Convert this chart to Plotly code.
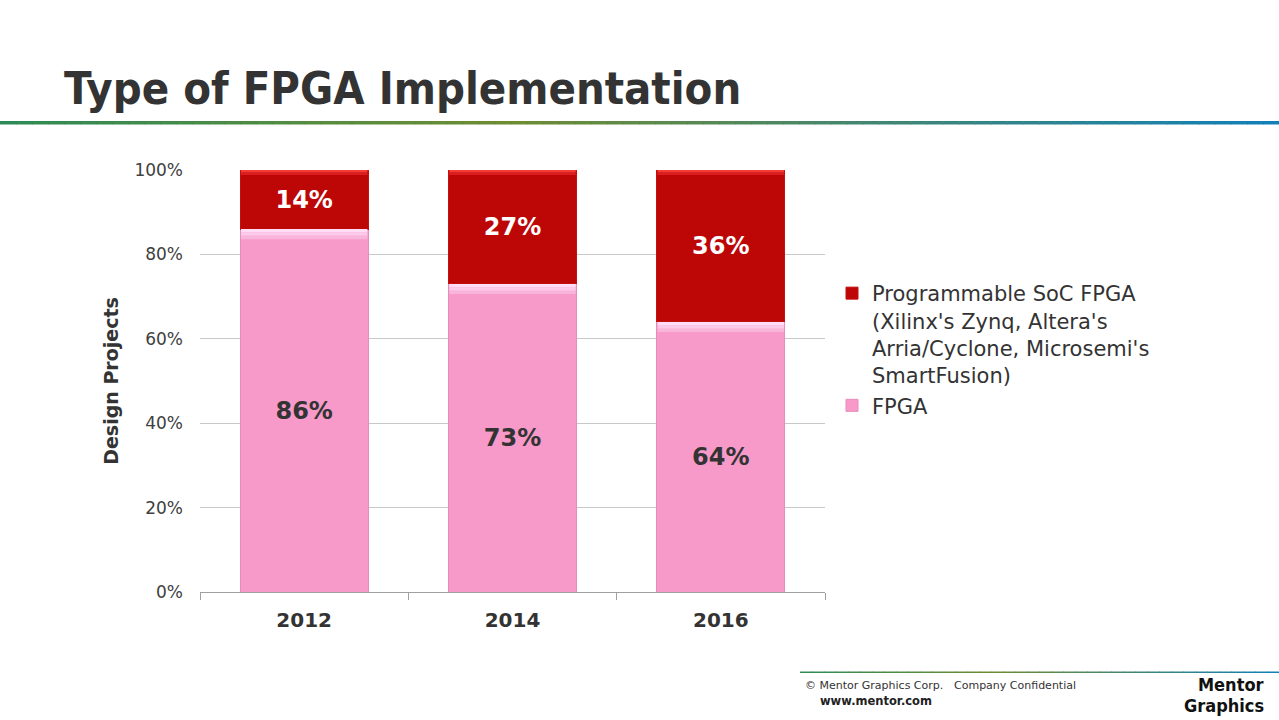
import plotly.graph_objects as go

# data
years = ["2012", "2014", "2016"]
fpga = [86, 73, 64]
soc = [14, 27, 36]
y_ticks = [0, 20, 40, 60, 80, 100]
y_tick_labels = ["0%", "20%", "40%", "60%", "80%", "100%"]

soc_name = "Programmable SoC FPGA<br>(Xilinx's Zynq, Altera's<br>Arria/Cyclone, Microsemi's<br>SmartFusion)"

FONT = "DejaVu Sans"
W, H = 1279, 720
BARGAP = 0.385


def px(x):
    return x / W


def py(y):
    return 1 - y / H


def lerp_color(stops, t):
    """Linear blend between colour stops (list of (pos, (r,g,b)))."""
    for (p0, c0), (p1, c1) in zip(stops, stops[1:]):
        if p0 <= t <= p1:
            f = (t - p0) / (p1 - p0) if p1 > p0 else 0
            c = [round(a + (b - a) * f) for a, b in zip(c0, c1)]
            return "rgb(%d,%d,%d)" % tuple(c)
    return "rgb(%d,%d,%d)" % stops[-1][1]


def gradient_bar(x0, x1, y0, y1, stops, n=80):
    shapes = []
    step = (x1 - x0) / n
    for i in range(n):
        shapes.append(dict(
            type="rect", xref="paper", yref="paper",
            x0=px(x0 + i * step), x1=px(x0 + (i + 1) * step + 0.6),
            y0=py(y1), y1=py(y0),
            line=dict(width=0), fillcolor=lerp_color(stops, (i + 0.5) / n),
            layer="below",
        ))
    return shapes


def bevel_strips(tops, colors, strip):
    # bands along the top edge of every bar segment (the bevel look)
    half = (1 - BARGAP) / 2
    out = []
    for i, t in enumerate(tops):
        for k, c in enumerate(colors):
            out.append(dict(
                type="rect", xref="x", yref="y",
                x0=i - half + 0.004, x1=i + half - 0.004,
                y0=t - strip * (k + 1), y1=t - strip * k,
                line=dict(width=0), fillcolor=c, layer="above",
            ))
    return out


stops = [(0.0, (46, 139, 87)), (0.4, (110, 140, 50)), (1.0, (17, 128, 185))]

fig = go.Figure()
fig.add_trace(go.Bar(
    x=years, y=fpga, name="FPGA",
    marker=dict(color="#F79AC9", line=dict(color="#E58CBB", width=1)),
    text=[f"{v}%" for v in fpga], textposition="inside", insidetextanchor="middle",
    textfont=dict(family=FONT, size=24, color="#333333", weight="bold"),
    hoverinfo="skip",
))
fig.add_trace(go.Bar(
    x=years, y=soc, name=soc_name,
    marker=dict(color="#BD0606", line=dict(color="#C41010", width=1)),
    text=[f"{v}%" for v in soc], textposition="inside", insidetextanchor="middle",
    textfont=dict(family=FONT, size=24, color="white", weight="bold"),
    hoverinfo="skip",
))

tops_fpga = fpga
tops_soc = [a + b for a, b in zip(fpga, soc)]

shapes = gradient_bar(0, W, 121, 124.5, stops)
shapes += gradient_bar(800, W, 671.5, 673, stops, n=40)
shapes += bevel_strips(tops_fpga, ["#FFDDF6", "#FCCBEA", "#F9B4DA"], 0.8)
shapes += bevel_strips(tops_soc, ["#F53A3A", "#DC1E1E"], 0.6)

fig.update_layout(
    width=W, height=H,
    margin=dict(l=0, r=0, t=0, b=0),
    paper_bgcolor="white", plot_bgcolor="white",
    barmode="stack", bargap=BARGAP,
    font=dict(family=FONT, color="#404040"),
    showlegend=True,
    legend=dict(
        x=px(832), y=py(273), xanchor="left", yanchor="top",
        traceorder="reversed", font=dict(size=21, color="#333333"),
        tracegroupgap=8, valign="top",
    ),
    xaxis=dict(
        domain=[px(200), px(825)], automargin=False,
        showline=True, linecolor="#A0A0A0", linewidth=1,
        ticks="outside", tickson="boundaries", ticklen=7, tickcolor="#A0A0A0",
        tickfont=dict(size=20, color="#333333", weight="bold"),
        ticklabelstandoff=10,
        showgrid=False,
    ),
    yaxis=dict(
        domain=[py(592), py(170)], automargin=False,
        range=[0, 100],
        tickvals=y_ticks, ticktext=y_tick_labels,
        tickfont=dict(size=17, color="#404040"),
        showgrid=True, gridcolor="#C8C8C8", gridwidth=1,
        zeroline=False, ticks="", ticklabelstandoff=16,
        title=dict(text="Design Projects", font=dict(size=19, color="#333333", weight="bold"), standoff=10),
    ),
    shapes=shapes,
    annotations=[
        dict(text="Type of FPGA Implementation", x=px(62), y=py(88), xref="paper", yref="paper",
             xanchor="left", yanchor="middle", showarrow=False,
             font=dict(family="DejaVu Sans Condensed", size=45, color="#333333", weight="bold")),
        dict(text="© Mentor Graphics Corp.", x=px(803), y=py(685),
             xref="paper", yref="paper", xanchor="left", yanchor="middle", showarrow=False,
             font=dict(family=FONT, size=11, color="#333333")),
        dict(text="Company Confidential", x=px(952), y=py(685),
             xref="paper", yref="paper", xanchor="left", yanchor="middle", showarrow=False,
             font=dict(family=FONT, size=11, color="#333333")),
        dict(text="www.mentor.com", x=px(818), y=py(701),
             xref="paper", yref="paper", xanchor="left", yanchor="middle", showarrow=False,
             font=dict(family=FONT, size=11.5, color="#222222", weight="bold")),
        dict(text="Mentor", x=px(1266), y=py(684),
             xref="paper", yref="paper", xanchor="right", yanchor="middle", showarrow=False,
             font=dict(family="DejaVu Sans Condensed", size=18, color="#111111", weight="bold")),
        dict(text="Graphics", x=px(1266), y=py(705),
             xref="paper", yref="paper", xanchor="right", yanchor="middle", showarrow=False,
             font=dict(family="DejaVu Sans Condensed", size=18, color="#111111", weight="bold")),
    ],
)

# plain page without the browser's default body margin, no modebar
fig.write_html("out.html", config={"displayModeBar": False},
               post_script="document.body.style.margin='0';")
